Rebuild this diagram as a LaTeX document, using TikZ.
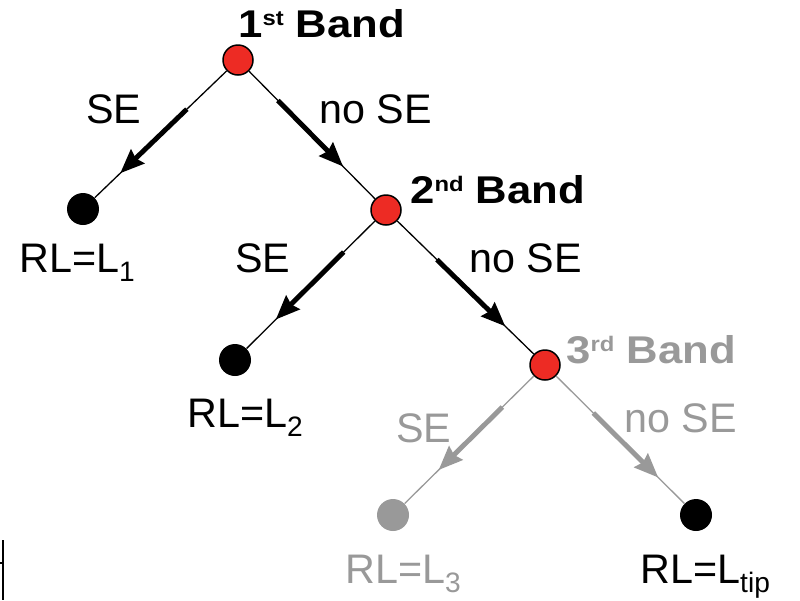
\documentclass[tikz,border=0pt]{standalone}
\usepackage{fontspec}
\setmainfont{Liberation Sans}
\newfontfamily\bandfont[FakeStretch=1.13]{Liberation Sans}
\usetikzlibrary{positioning, arrows.meta, calc}
\definecolor{bandred}{RGB}{237,43,36}
\definecolor{fadegray}{RGB}{153,153,153}
\newcommand{\lsup}[1]{\raisebox{6.5pt}{\fontsize{12}{12}\selectfont #1}}
\newcommand{\lsub}[1]{\raisebox{-5.5pt}{\fontsize{16}{16}\selectfont #1}}

\begin{document}
\begin{tikzpicture}[
  x=0.02cm, y=-0.02cm,
  band/.style={circle, draw, line width=0.85pt, fill=bandred, minimum size=0.6cm, inner sep=0pt},
  leaf/.style={circle, fill=black, minimum size=0.64cm, inner sep=0pt},
  lbl/.style={anchor=base west, inner sep=0pt, font=\fontsize{23.5}{27}\selectfont},
  bandlbl/.style={anchor=base west, inner sep=0pt, font=\bandfont\fontsize{22}{26}\selectfont\bfseries},
  edge/.style={line width=0.74pt},
  mid/.style={line width=2.8pt, -{Stealth[length=0.48cm, width=0.38cm, inset=0.05cm]}},
]
\useasboundingbox (0,0) rectangle (800,600);
\node[band] (b1) at (238,60) {};
\node[band] (b2) at (386,210) {};
\node[band] (b3) at (545,365) {};
\node[leaf] (l1) at (83,209) {};
\node[leaf] (l2) at (235,360) {};
\node[leaf, fill=fadegray] (l3) at (393,515) {};
\node[leaf] (lt) at (696,515) {};
\draw[edge] (b1) -- (l1);
\draw[edge] (b1) -- (b2);
\draw[edge] (b2) -- (l2);
\draw[edge] (b2) -- (b3);
\draw[edge, fadegray] (b3) -- (l3);
\draw[edge, fadegray] (b3) -- (lt);
\draw[mid] ($(b1)!0.33!(l1)$) -- ($(b1)!0.76!(l1)$);
\draw[mid] ($(b1)!0.27!(b2)$) -- ($(b1)!0.71!(b2)$);
\draw[mid] ($(b2)!0.28!(l2)$) -- ($(b2)!0.73!(l2)$);
\draw[mid] ($(b2)!0.32!(b3)$) -- ($(b2)!0.75!(b3)$);
\draw[mid, fadegray] ($(b3)!0.28!(l3)$) -- ($(b3)!0.70!(l3)$);
\draw[mid, fadegray] ($(b3)!0.32!(lt)$) -- ($(b3)!0.75!(lt)$);
\node[bandlbl] (t1) at (238,37) {1\lsup{st} Band};
\node[bandlbl] (t2) at (410,203) {2\lsup{nd} Band};
\node[bandlbl, text=fadegray] (t3) at (566,363) {3\lsup{rd} Band};
\node[lbl] (s1) at (86,123) {SE};
\node[lbl] (n1) at (319,123) {no SE};
\node[lbl] (s2) at (235,272) {SE};
\node[lbl] (n2) at (469,272) {no SE};
\node[lbl, text=fadegray] (s3) at (396,442) {SE};
\node[lbl, text=fadegray] (n3) at (624,432) {no SE};
\node[lbl] (r1) at (19,272) {RL=L\lsub{1}};
\node[lbl] (r2) at (187,427) {RL=L\lsub{2}};
\node[lbl, text=fadegray] (r3) at (345,583) {RL=L\lsub{3}};
\node[lbl] (rt) at (640,583) {RL=L\lsub{tip}};
\draw[line width=1.1pt] (3,540) -- (3,600);
\draw[line width=0.6pt] (0,563) -- (3,563);
\end{tikzpicture}
\end{document}
